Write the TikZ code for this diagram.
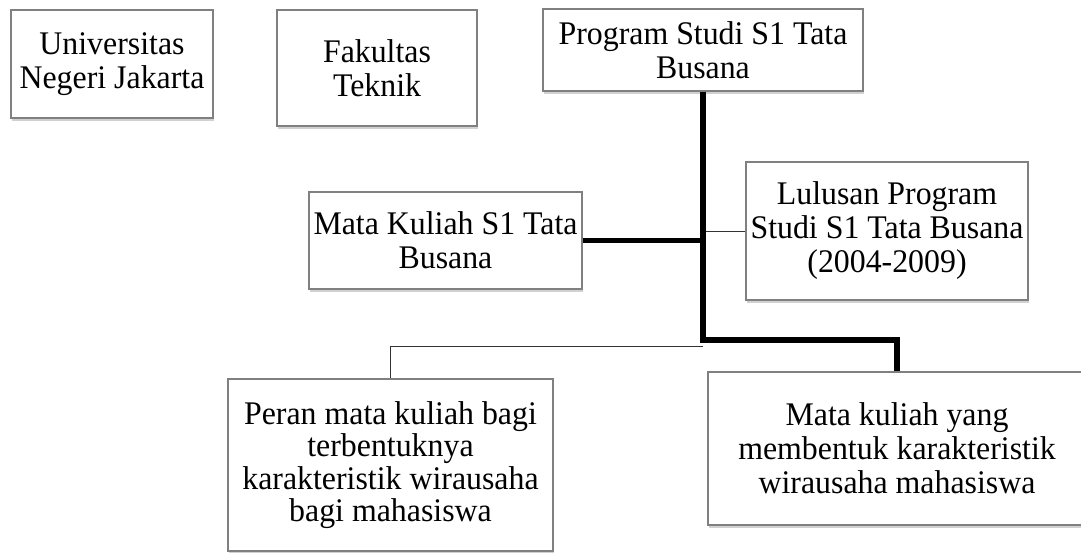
\documentclass[tikz,border=0pt]{standalone}
\usepackage{fontspec}
\setmainfont[FakeStretch=0.965]{Liberation Serif}
\usetikzlibrary{shadows}
\begin{document}
\begin{tikzpicture}[x=1pt,y=-1pt,
  box/.style={draw=black!50, line width=1.1pt, fill=white, inner sep=0pt,
    align=center, font=\fontsize{33}{34}\selectfont,
    drop shadow={shadow xshift=1pt, shadow yshift=-3pt, opacity=0.3, fill=black!60}},
  thickline/.style={line width=5.5pt, draw=black, line join=miter},
  thinline/.style={line width=1pt, draw=black!80}]
\useasboundingbox (0,0) rectangle (1081,552);
\clip (0,0) rectangle (1081,552);
\node[box, minimum width=202pt, minimum height=108pt] (unj) at (112,64) {Universitas\\Negeri Jakarta};
\node[box, minimum width=200pt, minimum height=116pt] (fak) at (377,68) {Fakultas\\Teknik};
\node[box, minimum width=320pt, minimum height=82pt] (prog) at (703,50) {Program Studi S1 Tata\\Busana};
\node[box, minimum width=273pt, minimum height=97pt] (mk) at (445.5,240.5) {Mata Kuliah S1 Tata\\Busana};
\node[box, minimum width=282pt, minimum height=138pt] (lul) at (887,231) {Lulusan Program\\Studi S1 Tata Busana\\(2004-2009)};
\node[box, minimum width=325pt, minimum height=172pt, font=\fontsize{33}{32.5}\selectfont] (peran) at (390.5,465) {Peran mata kuliah bagi\\terbentuknya\\karakteristik wirausaha\\bagi mahasiswa};
\node[box, minimum width=378pt, minimum height=153pt] (mky) at (897,448.5) {Mata kuliah yang\\membentuk karakteristik\\wirausaha mahasiswa};
\coordinate (jb) at (703,340);
\coordinate (jt) at (703,346);
\draw[thinline] (jt) -| (peran.north);
\draw[thickline] (mk.east) -- (mk.east -| prog.south);
\draw[thinline] (lul.west) -- (lul.west -| prog.south);
\draw[thickline] (prog.south) -- (jb) -| (mky.north);
\end{tikzpicture}
\end{document}
